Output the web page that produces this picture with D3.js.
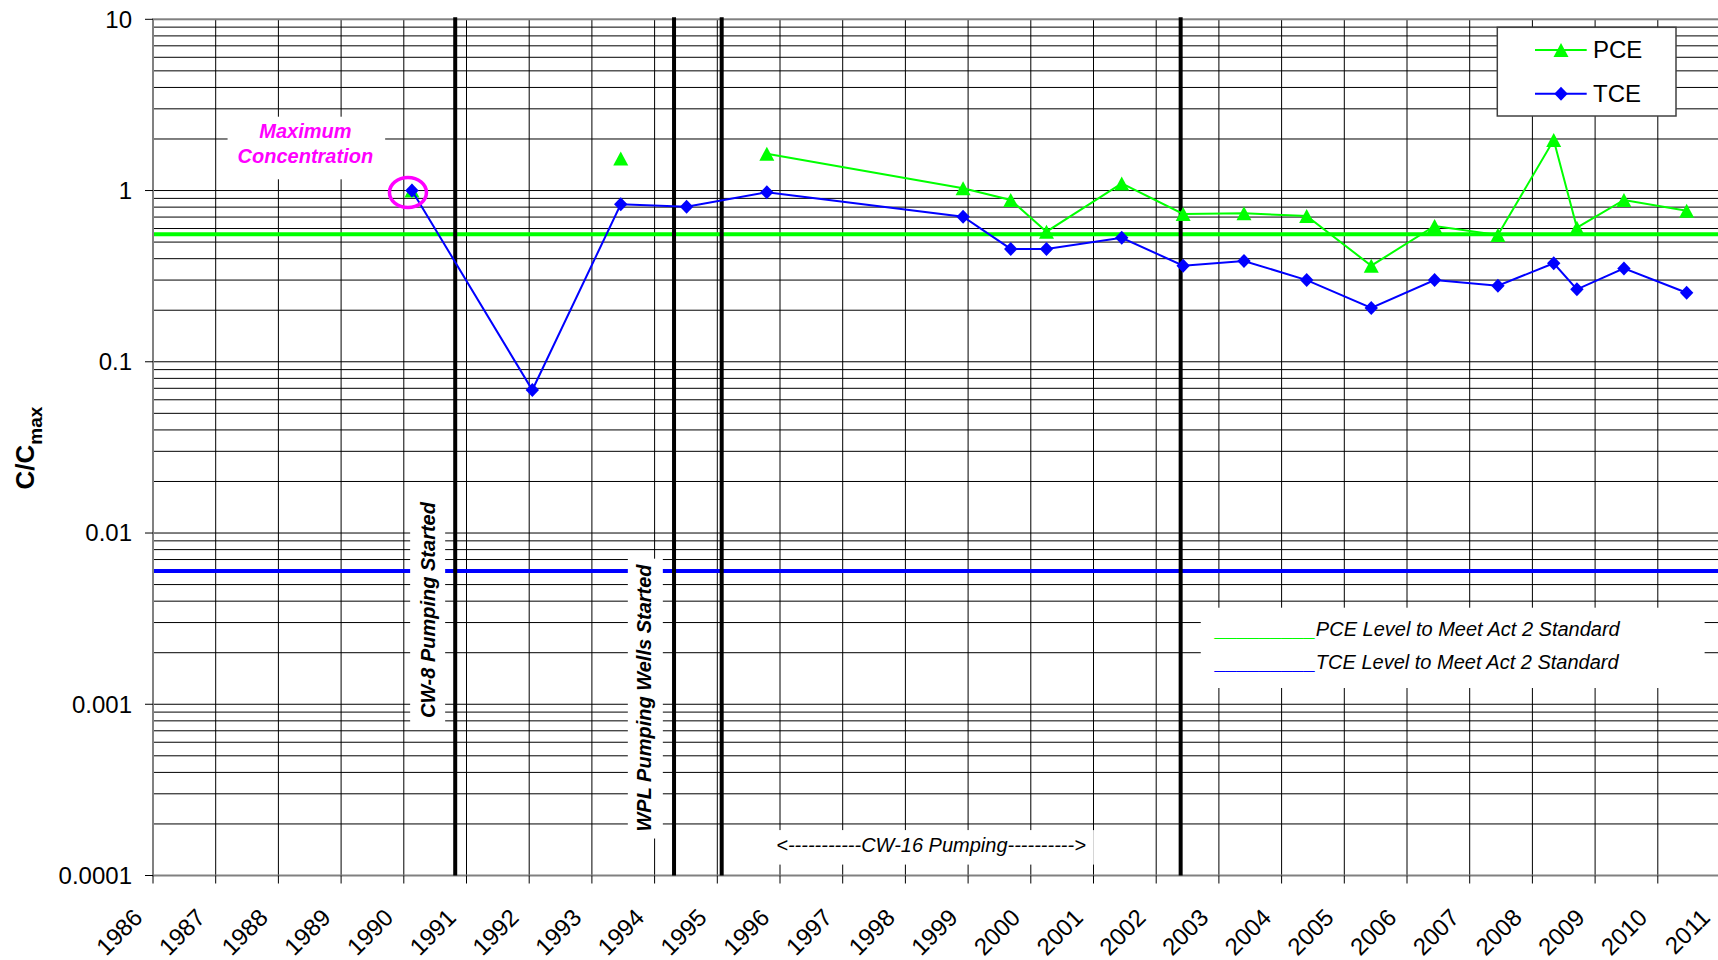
<!DOCTYPE html>
<html>
<head>
<meta charset="utf-8">
<script src="https://cdn.jsdelivr.net/npm/d3@7"></script>
<style>
  body { margin: 0; background: #fff; }
  text { font-family: "Liberation Sans", Arial, sans-serif; }
</style>
</head>
<body>
<div id="chart"></div>
<script>
// x axis tick labels (years) and y axis decades
var years = d3.range(1986, 2012);
var yTicks = [10, 1, 0.1, 0.01, 0.001, 0.0001];
var yTickLabels = ["10", "1", "0.1", "0.01", "0.001", "0.0001"];

// sampling dates (decimal years) and normalised concentrations
var sampleDates = [1990.13, 1992.05, 1993.46, 1994.51, 1995.79, 1998.92, 1999.68, 2000.25,
                   2001.45, 2002.43, 2003.40, 2004.40, 2005.43, 2006.44, 2007.45, 2008.34,
                   2008.71, 2009.46, 2010.46];
var pce = [1.0, null, 1.54, null, 1.64, 1.03, 0.881, 0.575,
           1.10, 0.730, 0.736, 0.710, 0.364, 0.621, 0.550, 1.97,
           0.607, 0.881, 0.763];
var tce = [1.0, 0.0684, 0.831, 0.805, 0.976, 0.703, 0.456, 0.456,
           0.530, 0.364, 0.388, 0.300, 0.206, 0.300, 0.278, 0.376,
           0.265, 0.351, 0.253];

// Act 2 standard levels
var pceStandard = 0.555;
var tceStandard = 0.006;

// pumping events (vertical lines)
var eventDates = [1990.82, 1994.31, 1995.07, 2002.39];

var width = 1718, height = 960;
var green = "#00ff00", blue = "#0000ff", magenta = "#ff00ff";

var svg = d3.select("#chart")
  .append("svg")
    .attr("width", width)
    .attr("height", height)
    .style("display", "block");

svg.append("rect").attr("width", width).attr("height", height).attr("fill", "#fff");

var x = d3.scaleLinear()
  .domain([1986, 2011])
  .range([153, 1720.5]);

var y = d3.scaleLog()
  .domain([0.0001, 10])
  .range([875.5, 19.3]);

var x0 = x.range()[0], x1 = x.range()[1];
var yTop = y.range()[1], yBot = y.range()[0];

// minor horizontal grid (1..9 per decade)
var gridValues = [];
for (var k = -4; k <= 0; k++) {
  for (var m = 1; m <= 9; m++) gridValues.push(m * Math.pow(10, k));
}

var grid = svg.append("g");
grid.selectAll(".hg")
  .data(gridValues)
  .enter().append("line")
    .attr("x1", x0).attr("x2", x1)
    .attr("y1", function(d) { return y(d); })
    .attr("y2", function(d) { return y(d); })
    .attr("stroke", "#000")
    .attr("stroke-width", 1);

grid.selectAll(".vg")
  .data(years.slice(1))
  .enter().append("line")
    .attr("x1", function(d) { return x(d); })
    .attr("x2", function(d) { return x(d); })
    .attr("y1", yTop).attr("y2", yBot)
    .attr("stroke", "#000")
    .attr("stroke-width", 1);

// standard levels
svg.append("line")
  .attr("x1", x0).attr("x2", x1)
  .attr("y1", y(pceStandard)).attr("y2", y(pceStandard))
  .attr("stroke", green).attr("stroke-width", 4);

svg.append("line")
  .attr("x1", x0).attr("x2", x1)
  .attr("y1", y(tceStandard)).attr("y2", y(tceStandard))
  .attr("stroke", blue).attr("stroke-width", 4);

// plot border and axes
svg.append("rect")
  .attr("x", x0).attr("y", yTop)
  .attr("width", x1 - x0).attr("height", yBot - yTop)
  .attr("fill", "none")
  .attr("stroke", "#808080")
  .attr("stroke-width", 2);

svg.selectAll(".ytick")
  .data(yTicks)
  .enter().append("line")
    .attr("x1", x0 - 8).attr("x2", x0)
    .attr("y1", function(d) { return y(d); })
    .attr("y2", function(d) { return y(d); })
    .attr("stroke", "#000");

svg.selectAll(".ylab")
  .data(yTicks)
  .enter().append("text")
    .attr("x", 132)
    .attr("y", function(d) { return y(d); })
    .attr("dy", "0.35em")
    .attr("text-anchor", "end")
    .attr("font-size", 24)
    .text(function(d, i) { return yTickLabels[i]; });

svg.selectAll(".xtick")
  .data(years)
  .enter().append("line")
    .attr("x1", function(d) { return x(d); })
    .attr("x2", function(d) { return x(d); })
    .attr("y1", yBot).attr("y2", yBot + 8)
    .attr("stroke", "#000");

svg.selectAll(".xlab")
  .data(years)
  .enter().append("text")
    .attr("transform", function(d) { return "translate(" + (x(d) - 9) + ",919) rotate(-45)"; })
    .attr("text-anchor", "end")
    .attr("font-size", 24)
    .text(function(d) { return d; });

// y axis title
var yt = svg.append("text")
  .attr("transform", "translate(34,448) rotate(-90)")
  .attr("text-anchor", "middle")
  .attr("font-weight", "bold");
yt.append("tspan").attr("font-size", 26).text("C/C");
yt.append("tspan").attr("font-size", 19).attr("dy", 7.7).text("max");

// annotations with white boxes behind them
function boxed(g, pad) {
  var b = g.select("text").node().getBBox();
  g.insert("rect", "text")
    .attr("x", b.x - pad[0])
    .attr("y", b.y - pad[1])
    .attr("width", b.width + pad[0] + pad[2])
    .attr("height", b.height + pad[1] + pad[3])
    .attr("fill", "#fff");
}

var cw8 = svg.append("g")
  .attr("transform", "translate(" + x(1990.50) + "," + y(0.00355) + ") rotate(-90)");
cw8.append("text")
  .attr("text-anchor", "middle")
  .attr("font-size", 20).attr("font-weight", "bold").attr("font-style", "italic")
  .text("CW-8 Pumping Started");
boxed(cw8, [5, 7, 5, 6]);

var wpl = svg.append("g")
  .attr("transform", "translate(" + x(1993.94) + "," + y(0.001088) + ") rotate(-90)");
wpl.append("text")
  .attr("text-anchor", "middle")
  .attr("font-size", 20).attr("font-weight", "bold").attr("font-style", "italic")
  .text("WPL Pumping Wells Started");
boxed(wpl, [7, 5, 5, 8]);

var maxc = svg.append("g");
var maxText = maxc.append("text")
  .attr("x", x(1988.43)).attr("y", y(2.035))
  .attr("text-anchor", "middle")
  .attr("font-size", 20).attr("font-weight", "bold").attr("font-style", "italic")
  .attr("fill", magenta);
maxText.append("tspan").attr("x", x(1988.43)).text("Maximum");
maxText.append("tspan").attr("x", x(1988.43)).attr("dy", 25.6).text("Concentration");
boxed(maxc, [10, 3, 12, 12]);

var cw16 = svg.append("g");
cw16.append("text")
  .attr("x", x(1995.94)).attr("y", y(0.000137))
  .attr("font-size", 20).attr("font-style", "italic")
  .text("<-----------CW-16 Pumping---------->");
boxed(cw16, [4, 4, 8, 8.5]);

var act2 = svg.append("g");
var actText = act2.append("text")
  .attr("font-size", 20).attr("font-style", "italic");
var l1 = actText.append("tspan").attr("x", x(2002.95)).attr("y", y(0.002514));
l1.append("tspan").attr("fill", green).text("_________");
l1.append("tspan").attr("fill", "#000").text("PCE Level to Meet Act 2 Standard");
var l2 = actText.append("tspan").attr("x", x(2002.95)).attr("dy", 33.3);
l2.append("tspan").attr("fill", blue).text("_________");
l2.append("tspan").attr("fill", "#000").text("TCE Level to Meet Act 2 Standard");
boxed(act2, [13, 10, 84, 15]);

// pumping start lines
svg.selectAll(".event")
  .data(eventDates)
  .enter().append("line")
    .attr("x1", function(d) { return x(d); })
    .attr("x2", function(d) { return x(d); })
    .attr("y1", yTop - 2).attr("y2", yBot)
    .attr("stroke", "#000")
    .attr("stroke-width", 4);

// series
var triangle = "M0,-7L7.5,7L-7.5,7Z";
var diamond = "M0,-7L6.7,0L0,7L-6.7,0Z";

function series(values, color, shape) {
  var pts = sampleDates.map(function(d, i) { return {date: d, v: values[i]}; });
  svg.append("path")
    .datum(pts)
    .attr("fill", "none")
    .attr("stroke", color)
    .attr("stroke-width", 2)
    .attr("d", d3.line()
      .defined(function(d) { return d.v != null; })
      .x(function(d) { return x(d.date); })
      .y(function(d) { return y(d.v); }));
  svg.selectAll(null)
    .data(pts.filter(function(d) { return d.v != null; }))
    .enter().append("path")
      .attr("d", shape)
      .attr("fill", color)
      .attr("transform", function(d) { return "translate(" + x(d.date) + "," + y(d.v) + ")"; });
}

series(pce, green, triangle);
series(tce, blue, diamond);

// circle round the maximum
svg.append("ellipse")
  .attr("cx", x(sampleDates[0]) - 4)
  .attr("cy", y(tce[0]) + 2)
  .attr("rx", 18.5).attr("ry", 15)
  .attr("fill", "none")
  .attr("stroke", magenta)
  .attr("stroke-width", 3.5);

// legend
var legend = svg.append("g");
legend.append("rect")
  .attr("x", 1497.3).attr("y", 27.3)
  .attr("width", 178.7).attr("height", 88.7)
  .attr("fill", "#fff")
  .attr("stroke", "#404040")
  .attr("stroke-width", 1.5);

var entries = [{name: "PCE", color: green, shape: triangle, y: 50},
               {name: "TCE", color: blue, shape: diamond, y: 93.7}];
entries.forEach(function(e) {
  legend.append("line")
    .attr("x1", 1535).attr("x2", 1586.7)
    .attr("y1", e.y).attr("y2", e.y)
    .attr("stroke", e.color).attr("stroke-width", 2);
  legend.append("path")
    .attr("d", e.shape)
    .attr("fill", e.color)
    .attr("transform", "translate(1561," + e.y + ")");
  legend.append("text")
    .attr("x", 1593).attr("y", e.y)
    .attr("dy", "0.33em")
    .attr("font-size", 24)
    .text(e.name);
});
</script>
</body>
</html>
